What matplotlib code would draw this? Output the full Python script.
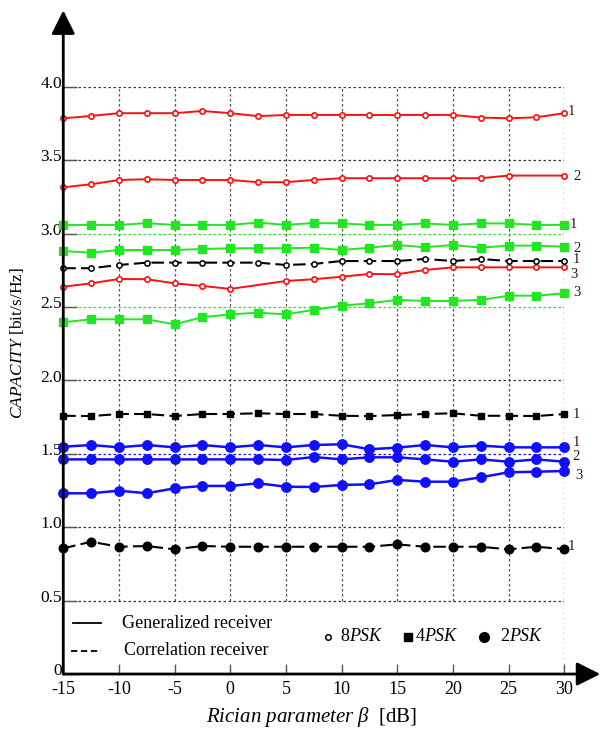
import matplotlib
matplotlib.use("Agg")
import matplotlib.pyplot as plt
from matplotlib.transforms import ScaledTranslation

plt.rcParams['font.family'] = ['Liberation Serif', 'DejaVu Serif']
plt.rcParams['mathtext.fontset'] = 'custom'
plt.rcParams['mathtext.rm'] = 'Liberation Serif'
plt.rcParams['mathtext.it'] = 'Liberation Serif:italic'

# data
beta = [-15, -12.5, -10, -7.5, -5, -2.5, 0, 2.5, 5, 7.5, 10, 12.5, 15, 17.5, 20, 22.5, 25, 27.5, 30]
beta_r2 = [-15, -12.5, -10, -7.5, -5, -2.5, 0, 2.5, 5, 7.5, 10, 12.5, 15, 17.5, 20, 22.5, 25, 30]
beta_r3 = [-15, -12.5, -10, -7.5, -5, -2.5, 0, 5, 7.5, 10, 12.5, 15, 17.5, 20, 22.5, 25, 27.5, 30]

psk8_gen1 = [3.785, 3.801, 3.820, 3.820, 3.820, 3.835, 3.820, 3.800, 3.808, 3.808,
             3.808, 3.808, 3.808, 3.808, 3.808, 3.790, 3.785, 3.792, 3.820]
psk8_gen2 = [3.315, 3.336, 3.365, 3.370, 3.365, 3.365, 3.365, 3.350, 3.350, 3.365,
             3.377, 3.377, 3.377, 3.377, 3.377, 3.377, 3.395, 3.395]
psk8_gen3 = [2.638, 2.661, 2.691, 2.689, 2.661, 2.643, 2.623, 2.677, 2.689, 2.706,
             2.725, 2.723, 2.752, 2.770, 2.770, 2.770, 2.770, 2.770]
psk8_corr1 = [2.764, 2.764, 2.786, 2.802, 2.802, 2.802, 2.802, 2.802, 2.786, 2.793,
              2.813, 2.813, 2.813, 2.827, 2.813, 2.827, 2.813, 2.813, 2.813]

psk4_gen1 = [3.059, 3.059, 3.059, 3.071, 3.059, 3.059, 3.059, 3.075, 3.059, 3.072,
             3.069, 3.059, 3.059, 3.069, 3.059, 3.069, 3.069, 3.059, 3.059]
psk4_gen2 = [2.881, 2.870, 2.888, 2.888, 2.888, 2.895, 2.900, 2.900, 2.900, 2.904,
             2.888, 2.904, 2.922, 2.907, 2.922, 2.904, 2.918, 2.918, 2.911]
psk4_gen3 = [2.396, 2.416, 2.416, 2.416, 2.382, 2.430, 2.450, 2.461, 2.450, 2.480,
             2.509, 2.525, 2.548, 2.541, 2.541, 2.548, 2.577, 2.577, 2.593]
psk4_corr1 = [1.759, 1.757, 1.771, 1.771, 1.757, 1.771, 1.771, 1.776, 1.771, 1.771,
              1.759, 1.757, 1.764, 1.771, 1.776, 1.759, 1.759, 1.757, 1.771]

psk2_gen1 = [1.548, 1.560, 1.544, 1.560, 1.544, 1.560, 1.544, 1.560, 1.544, 1.560,
             1.565, 1.531, 1.542, 1.560, 1.544, 1.556, 1.544, 1.544, 1.544]
psk2_gen2 = [1.462, 1.462, 1.462, 1.462, 1.462, 1.462, 1.462, 1.462, 1.458, 1.478,
             1.462, 1.476, 1.476, 1.462, 1.446, 1.462, 1.446, 1.462, 1.446]
psk2_gen3 = [1.231, 1.231, 1.249, 1.231, 1.265, 1.281, 1.281, 1.299, 1.276, 1.274,
             1.288, 1.292, 1.322, 1.310, 1.310, 1.340, 1.374, 1.378, 1.383]
psk2_corr1 = [0.856, 0.901, 0.867, 0.872, 0.849, 0.872, 0.867, 0.867, 0.867, 0.867,
              0.867, 0.867, 0.883, 0.867, 0.867, 0.867, 0.849, 0.867, 0.851]

xticks = [-15, -10, -5, 0, 5, 10, 15, 20, 25, 30]
yticks = [0, 0.5, 1.0, 1.5, 2.0, 2.5, 3.0, 3.5, 4.0]
ytick_labels = ['0', '0.5', '1.0', '1.5', '2.0', '2.5', '3.0', '3.5', '4.0']

RED = '#ff1010'
GREEN = '#22e622'
BLUE = '#1010ff'

fig = plt.figure(figsize=(6.02, 7.29), dpi=100)
ax = fig.add_axes([0.1051, 0.0754, 0.8321, 0.8056])
ax.set_xlim(-15, 30)
ax.set_ylim(0, 4.0)
for s in ax.spines.values():
    s.set_visible(False)

# grid
dot = (0, (2, 2))
for x in xticks[1:-1]:
    ax.plot([x, x], [0.5, 4.0], color='#555555', lw=0.9, ls=dot, zorder=1)
ax.plot([30, 30], [0, 4.0], color='#333333', lw=0.9, ls=dot, zorder=1)
for y in [0.5, 1.0, 2.0, 3.5, 4.0]:
    ax.plot([-15, 30], [y, y], color='#333333', lw=0.9, ls=dot, zorder=1)
ax.plot([-15, 30], [1.5, 1.5], color=BLUE, lw=0.9, ls=dot, zorder=1)
ax.plot([-15, 30], [2.5, 2.5], color=GREEN, lw=0.9, ls=dot, zorder=1)
ax.plot([-15, 30], [3.0, 3.0], color=GREEN, lw=0.9, ls=dot, zorder=1)

dash = (0, (6, 2.5))
kw = dict(clip_on=False, zorder=3)

# 8PSK
ax.plot(beta, psk8_gen1, color=RED, lw=1.4, marker='o', ms=3.8, mfc='white', mew=1.2, **kw)
ax.plot(beta_r2, psk8_gen2, color=RED, lw=1.4, marker='o', ms=3.8, mfc='white', mew=1.2, **kw)
ax.plot(beta_r3, psk8_gen3, color=RED, lw=1.4, marker='o', ms=3.8, mfc='white', mew=1.2, **kw)
ax.plot(beta, psk8_corr1, color='black', lw=1.5, ls=dash, marker='o', ms=3.8, mfc='white', mew=1.1, **kw)

# 4PSK
ax.plot(beta, psk4_gen1, color=GREEN, lw=1.4, marker='s', ms=5.5, **kw)
ax.plot(beta, psk4_gen2, color=GREEN, lw=1.4, marker='s', ms=5.5, **kw)
ax.plot(beta, psk4_gen3, color=GREEN, lw=1.4, marker='s', ms=5.5, **kw)
ax.plot(beta, psk4_corr1, color='black', lw=1.5, ls=dash, marker='s', ms=4.8, **kw)

# 2PSK
ax.plot(beta, psk2_gen1, color=BLUE, lw=1.8, marker='o', ms=6.8, **kw)
ax.plot(beta, psk2_gen2, color=BLUE, lw=1.8, marker='o', ms=6.8, **kw)
ax.plot(beta, psk2_gen3, color=BLUE, lw=1.8, marker='o', ms=6.8, **kw)
ax.plot(beta, psk2_corr1, color='black', lw=1.5, ls=dash, marker='o', ms=6.2, **kw)

# curve numbers at the right end
lab_kw = dict(fontsize=10.5, color='#3a1010', va='center', ha='left', clip_on=False)
ax.text(30.3, 3.83, '1', **lab_kw)
ax.text(30.8, 3.39, '2', **lab_kw)
ax.text(30.5, 3.06, '1', **lab_kw)
ax.text(30.8, 2.90, '2', **lab_kw)
ax.text(30.8, 2.82, '1', **lab_kw)
ax.text(30.5, 2.72, '3', **lab_kw)
ax.text(30.8, 2.60, '3', **lab_kw)
ax.text(30.8, 1.77, '1', **lab_kw)
ax.text(30.8, 1.575, '1', **lab_kw)
ax.text(30.7, 1.48, '2', **lab_kw)
ax.text(31.0, 1.35, '3', **lab_kw)
ax.text(30.3, 0.87, '1', **lab_kw)

# legend drawn inside the plot
ax.plot([-14.1, -11.6], [0.345, 0.345], color='black', lw=1.3, clip_on=False)
ax.plot([-14.3, -11.6], [0.159, 0.159], color='black', lw=1.3, ls=(0, (3.5, 2)), clip_on=False)
ax.text(-9.7, 0.345, 'Generalized receiver', fontsize=13, va='center', ha='left')
ax.text(-9.5, 0.159, 'Correlation receiver', fontsize=13, va='center', ha='left')
ax.plot([8.76], [0.25], marker='o', ms=4, mfc='white', mec='black', mew=1.1, color='black')
ax.text(9.86, 0.255, r'8$\mathit{PSK}$', fontsize=13, va='center', ha='left')
ax.plot([15.94], [0.25], marker='s', ms=5.5, color='black')
ax.text(16.6, 0.255, r'4$\mathit{PSK}$', fontsize=13, va='center', ha='left')
ax.plot([22.8], [0.25], marker='o', ms=7, color='black')
ax.text(24.24, 0.255, r'2$\mathit{PSK}$', fontsize=13, va='center', ha='left')

# ticks and axes
ax.set_xticks(xticks)
ax.set_xticklabels([str(x) for x in xticks])
ax.set_yticks(yticks)
ax.set_yticklabels(ytick_labels)
ax.tick_params(axis='y', direction='in', length=10, width=1, color='#555555', pad=1, labelsize=12.5)
ax.tick_params(axis='x', direction='in', length=7, width=1, color='#555555', pad=5, labelsize=13)
up = ScaledTranslation(0, 3.5 / 72, fig.dpi_scale_trans)
for lab in ax.get_yticklabels():
    lab.set_transform(lab.get_transform() + up)

arrow = dict(arrowstyle='-|>,head_length=0.8,head_width=0.4', lw=2, color='black',
             mutation_scale=18, shrinkA=0, shrinkB=0)
ax.annotate('', xy=(0, 1.13), xytext=(0, 0), xycoords='axes fraction', arrowprops=arrow)
ax.annotate('', xy=(1.072, 0), xytext=(0, 0), xycoords='axes fraction', arrowprops=arrow)

ax.set_xlabel(r'$\mathit{Rician\ parameter}\ \mathit{\beta}$  [dB]', fontsize=15)
ax.xaxis.set_label_coords(0.495, -0.052)
ax.set_ylabel(r'$\mathit{CAPACITY}$ [bit/s/Hz]', fontsize=12.5)
ax.yaxis.set_label_coords(-0.074, 0.564)

fig.savefig('out.png', dpi=100)
